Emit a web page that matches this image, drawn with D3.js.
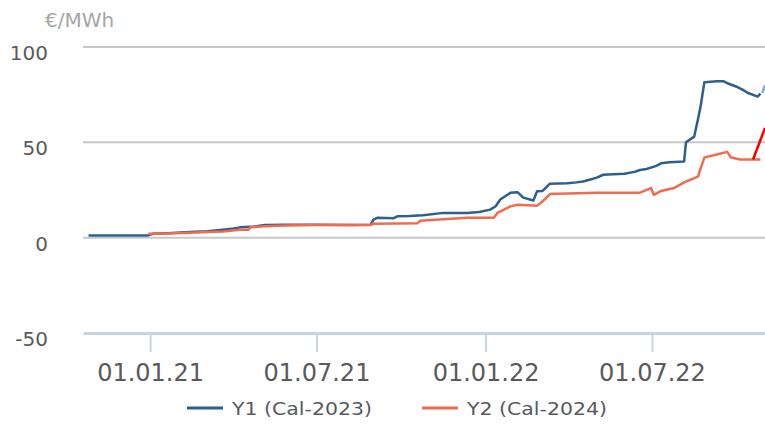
<!DOCTYPE html>
<html>
<head>
<meta charset="utf-8">
<script src="https://cdn.jsdelivr.net/npm/d3@7"></script>
<style>
  body { margin: 0; background: #fff; }
  text { font-family: "DejaVu Sans", sans-serif; }
</style>
</head>
<body>
<div id="chart"></div>
<script>
// Y1 (Cal-2023) settlement prices, €/MWh
const y1Dates = ['2020-10-26','2020-12-30','2021-01-04','2021-01-20','2021-02-13','2021-03-04','2021-03-21','2021-04-02','2021-04-09','2021-04-25','2021-05-06','2021-05-28','2021-07-01','2021-08-07','2021-08-29','2021-09-01','2021-09-05','2021-09-23','2021-09-27','2021-10-10','2021-10-25','2021-11-16','2021-12-12','2021-12-25','2022-01-06','2022-01-12','2022-01-17','2022-01-28','2022-02-05','2022-02-11','2022-02-22','2022-02-26','2022-03-04','2022-03-12','2022-03-31','2022-04-10','2022-04-17','2022-04-25','2022-05-02','2022-05-09','2022-05-20','2022-06-01','2022-06-12','2022-06-18','2022-06-25','2022-07-05','2022-07-11','2022-07-20','2022-08-05','2022-08-07','2022-08-16','2022-08-20','2022-08-23','2022-08-27','2022-09-10','2022-09-17','2022-09-21','2022-10-02','2022-10-08','2022-10-13','2022-10-24','2022-10-27'];
const y1Values = [1.2,1.2,2.0,2.3,3.0,3.4,4.2,4.8,5.4,5.8,6.6,6.8,6.8,6.6,6.8,9.5,10.4,10.2,11.2,11.4,11.8,13.0,13.0,13.5,14.7,16.5,20.0,23.5,23.8,21.0,19.5,24.3,24.5,28.3,28.5,29.0,29.5,30.5,31.5,33.0,33.2,33.5,34.5,35.5,36.0,37.5,39.0,39.5,40.0,50.0,53.0,62.0,69.0,81.5,82.0,82.0,81.0,79.0,77.5,76.0,74.0,75.5];

// Y2 (Cal-2024)
const y2Dates = ['2020-12-30','2021-01-20','2021-02-13','2021-03-04','2021-03-21','2021-04-09','2021-04-18','2021-04-20','2021-05-06','2021-05-28','2021-07-01','2021-08-29','2021-09-01','2021-10-19','2021-10-22','2021-11-16','2021-12-12','2022-01-10','2022-01-14','2022-01-28','2022-02-05','2022-02-26','2022-03-04','2022-03-12','2022-05-02','2022-06-18','2022-06-30','2022-07-03','2022-07-11','2022-07-25','2022-08-05','2022-08-20','2022-08-27','2022-09-21','2022-09-25','2022-10-05','2022-10-27'];
const y2Values = [2.0,2.2,2.6,3.0,3.2,4.2,4.2,5.4,6.0,6.4,6.6,6.6,7.3,7.6,8.9,9.6,10.4,10.5,13.0,16.4,17.3,16.8,19.0,22.9,23.5,23.6,26.0,22.5,24.5,26.0,29.0,32.0,42.0,45.0,42.0,41.0,41.0];

// last, still-moving segments
const y1TailDates = ['2022-10-29','2022-11-01'];
const y1TailValues = [75.9, 80.0];
const y2TailDates = ['2022-10-19','2022-11-01'];
const y2TailValues = [41.0, 57.5];

const yTicks = [100, 50, 0, -50];
const xTickDates = ['2021-01-01','2021-07-01','2022-01-01','2022-07-01'];
const seriesNames = ['Y1 (Cal-2023)', 'Y2 (Cal-2024)'];
const colors = ['#2d5f8f', '#f26a4f'];

const parse = d3.timeParse('%Y-%m-%d');
const zip = (ds, vs) => ds.map((d, i) => ({ date: parse(d), value: vs[i] }));

const width = 765, height = 424;
const svg = d3.select('#chart').append('svg')
    .attr('width', width)
    .attr('height', height);

const x = d3.scaleTime()
    .domain([parse('2020-10-20'), parse('2022-11-01')])
    .range([83, 765]);
const y = d3.scaleLinear()
    .domain([-50, 100])
    .range([333, 47]);

// horizontal grid lines (not at -50, that one is the axis)
svg.append('g')
    .selectAll('line')
    .data(yTicks.filter(v => v !== -50))
    .enter().append('line')
    .attr('x1', 83).attr('x2', width)
    .attr('y1', d => y(d)).attr('y2', d => y(d))
    .attr('stroke', '#c8c8c8')
    .attr('stroke-width', 2);

// y labels
const yAxis = svg.append('g')
    .attr('transform', 'translate(83,0)')
    .call(d3.axisLeft(y).tickValues(yTicks).tickFormat(d => String(d)).tickSize(0).tickPadding(35));
yAxis.select('.domain').remove();
yAxis.selectAll('text')
    .attr('font-family', '"DejaVu Sans", sans-serif')
    .attr('font-size', 20)
    .attr('fill', '#5a5a5a')
    .attr('dy', '0.62em');

svg.append('text')
    .attr('x', 45).attr('y', 27)
    .attr('font-size', 20)
    .attr('fill', '#a6a6a6')
    .text('€/MWh');

// x axis
const xAxis = svg.append('g')
    .attr('transform', `translate(0,${y(-50)})`)
    .call(d3.axisBottom(x)
        .tickValues(xTickDates.map(parse))
        .tickFormat(d3.timeFormat('%d.%m.%y'))
        .tickSize(19)
        .tickSizeOuter(0)
        .tickPadding(12));
xAxis.select('.domain')
    .attr('stroke', '#c6d5e3')
    .attr('stroke-width', 3);
xAxis.selectAll('.tick line')
    .attr('stroke', '#c6d5e3')
    .attr('stroke-width', 2);
xAxis.selectAll('text')
    .attr('font-family', '"Liberation Sans", sans-serif')
    .attr('font-size', 24)
    .attr('fill', '#5a5a5a');

// lines
const line = d3.line()
    .x(d => x(d.date))
    .y(d => y(d.value));

const series = [zip(y1Dates, y1Values), zip(y2Dates, y2Values)];
svg.append('g')
    .selectAll('path')
    .data(series)
    .enter().append('path')
    .attr('d', line)
    .attr('fill', 'none')
    .attr('stroke', (d, i) => colors[i])
    .attr('stroke-width', 2.5)
    .attr('stroke-linejoin', 'round');

svg.append('path')
    .datum(zip(y1TailDates, y1TailValues))
    .attr('d', line)
    .attr('fill', 'none')
    .attr('stroke', '#7aaee0')
    .attr('stroke-width', 2.5);
svg.append('path')
    .datum(zip(y2TailDates, y2TailValues))
    .attr('d', line)
    .attr('fill', 'none')
    .attr('stroke', '#ff0000')
    .attr('stroke-width', 2.5);

// legend
const legend = svg.append('g')
    .selectAll('g')
    .data(seriesNames)
    .enter().append('g')
    .attr('transform', (d, i) => `translate(${187 + i * 235},408)`);
legend.append('line')
    .attr('x1', 0).attr('x2', 36)
    .attr('stroke', (d, i) => colors[i])
    .attr('stroke-width', 3);
legend.append('text')
    .attr('x', 45).attr('y', 7)
    .attr('font-size', 18)
    .attr('fill', '#5a5a5a')
    .attr('textLength', 140)
    .attr('lengthAdjust', 'spacingAndGlyphs')
    .text(d => d);
</script>
</body>
</html>
